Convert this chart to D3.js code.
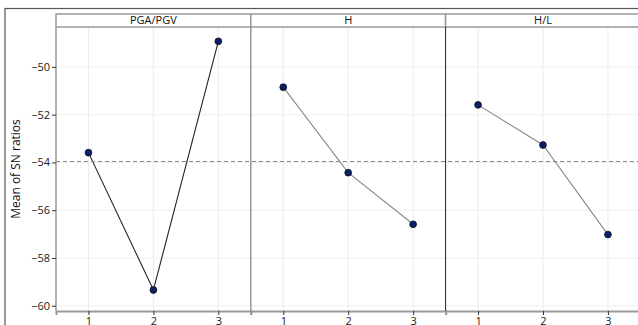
<!DOCTYPE html>
<html><head><meta charset="utf-8">
<script src="https://cdn.jsdelivr.net/npm/d3@7"></script>
<style>body{margin:0;background:#fff;}svg{display:block;font-family:"Open Sans",sans-serif;}</style>
</head><body>
<script>
const factors = ["PGA/PGV", "H", "H/L"];
const levels = [1, 2, 3];
const pgaValues = [-53.59, -59.34, -48.93];
const hValues = [-50.85, -54.43, -56.59];
const hlValues = [-51.59, -53.27, -57.02];
const yTicks = [-60, -58, -56, -54, -52, -50];
const grandMean = -53.96;

const series = [pgaValues, hValues, hlValues];
const lineColors = ["#222", "#888", "#888"];

const W = 638, H = 325;
const svg = d3.select("body").append("svg").attr("width", W).attr("height", H);

const panelLeft = 56, panelW = 194.8, stripTop = 14, stripBot = 27, plotBot = 311;
const y = d3.scaleLinear().domain([-60.22, -48.33]).range([plotBot, stripBot]);

// outer border
svg.append("rect").attr("x", 5).attr("y", 8.5).attr("width", 660).attr("height", 400)
  .attr("fill", "none").attr("stroke", "#555").attr("stroke-width", 1.2);

factors.forEach((f, i) => {
  const x0 = panelLeft + i * panelW;
  const x = d3.scaleLinear().domain([0.5, 3.5]).range([x0, x0 + panelW]);
  const g = svg.append("g");
  // grid
  g.selectAll(".gy").data(yTicks).join("line")
    .attr("x1", x0).attr("x2", x0 + panelW).attr("y1", d => y(d)).attr("y2", d => y(d))
    .attr("stroke", "#f0f0f0").attr("stroke-width", 1);
  g.selectAll(".gx").data(levels).join("line")
    .attr("x1", d => x(d)).attr("x2", d => x(d)).attr("y1", stripBot).attr("y2", plotBot)
    .attr("stroke", "#ececec").attr("stroke-width", 1);
  // strip
  g.append("rect").attr("x", x0).attr("y", stripTop).attr("width", panelW).attr("height", stripBot - stripTop)
    .attr("fill", "#fff").attr("stroke", "#999").attr("stroke-width", 1.5);
  g.append("text").attr("x", x0 + panelW / 2).attr("y", stripBot - 3).attr("text-anchor", "middle")
    .attr("font-size", 11).attr("fill", "#111").text(f);
  // x axis
  const xa = svg.append("g").attr("transform", `translate(0,${plotBot})`)
    .call(d3.axisBottom(x).tickValues(levels).tickSize(4).tickPadding(2).tickFormat(d3.format("d")));
  xa.select(".domain").attr("stroke", "#999").attr("stroke-width", 2);
  xa.selectAll(".tick line").attr("stroke", "#333");
  xa.selectAll("text").attr("font-size", 11).attr("fill", "#222").attr("font-family", "Open Sans, sans-serif");
  // line + points
  const pts = levels.map((l, k) => [l, series[i][k]]);
  svg.append("path").datum(pts)
    .attr("d", d3.line().x(d => x(d[0])).y(d => y(d[1])))
    .attr("fill", "none").attr("stroke", lineColors[i]).attr("stroke-width", 1.1);
  svg.selectAll(null).data(pts).join("circle")
    .attr("cx", d => x(d[0])).attr("cy", d => y(d[1])).attr("r", 3.4)
    .attr("fill", "#0b1f6b").attr("stroke", "#111").attr("stroke-width", 0.8);
});

// panel borders
svg.append("line").attr("x1", panelLeft).attr("x2", panelLeft).attr("y1", stripBot).attr("y2", plotBot)
  .attr("stroke", "#999").attr("stroke-width", 1.5);
svg.append("line").attr("x1", panelLeft + panelW).attr("x2", panelLeft + panelW).attr("y1", stripBot).attr("y2", plotBot)
  .attr("stroke", "#888").attr("stroke-width", 1.3);
svg.append("line").attr("x1", panelLeft + 2 * panelW).attr("x2", panelLeft + 2 * panelW).attr("y1", stripBot).attr("y2", plotBot)
  .attr("stroke", "#222").attr("stroke-width", 1);

// mean line
svg.append("line").attr("x1", panelLeft).attr("x2", W).attr("y1", y(grandMean)).attr("y2", y(grandMean))
  .attr("stroke", "#888").attr("stroke-width", 1.2).attr("stroke-dasharray", "4,3");

// y axis
const ya = svg.append("g").attr("transform", `translate(${panelLeft},0)`)
  .call(d3.axisLeft(y).tickValues(yTicks).tickSize(4).tickPadding(2));
ya.select(".domain").remove();
ya.selectAll(".tick line").attr("stroke", "#333");
ya.selectAll("text").attr("font-size", 11).attr("fill", "#222").attr("font-family", "Open Sans, sans-serif");

svg.append("text").attr("transform", `translate(20,${(stripBot + plotBot) / 2}) rotate(-90)`)
  .attr("text-anchor", "middle").attr("font-size", 12).attr("fill", "#111").text("Mean of SN ratios");
</script>
</body></html>
